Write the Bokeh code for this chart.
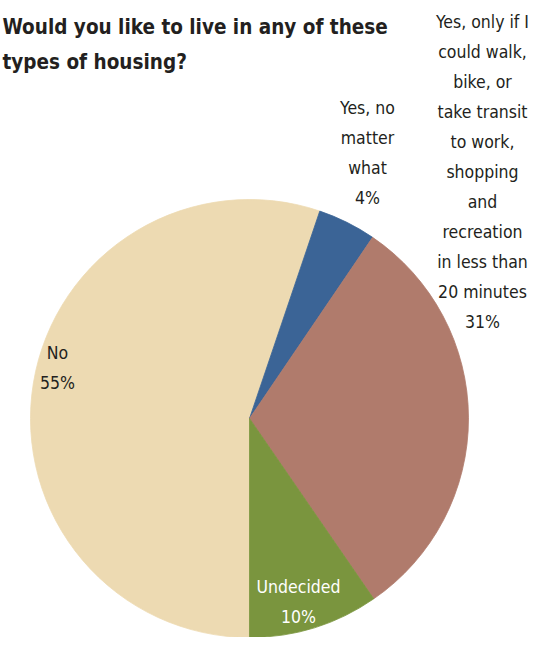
import math
from bokeh.plotting import figure
from bokeh.models import Range1d, ColumnDataSource
from bokeh.core.properties import value
from bokeh.embed import file_html
from bokeh.resources import INLINE

# ---- data ----
categories = [
    "No",
    "Yes, no matter what",
    "Yes, only if I could walk, bike, or take transit to work, shopping and recreation in less than 20 minutes",
    "Undecided",
]
label_lines = [
    ["No"],
    ["Yes, no", "matter", "what"],
    ["Yes, only if I", "could walk,", "bike, or", "take transit", "to work,",
     "shopping", "and", "recreation", "in less than", "20 minutes"],
    ["Undecided"],
]
shares = [55.2, 4.3, 30.9, 9.6]
colors = ["#EDDAB2", "#3B6496", "#B07B6C", "#7A953E"]
title_lines = ["Would you like to live in any of these", "types of housing?"]

# ---- layout (pixel coords, y measured from top) ----
W, H = 534, 637
def fy(y):
    return H - y

cx, cy, r = 249, fy(418), 219
label_anchor = [(57, 352), (367, 107), (482, 21), (298, 586)]
label_color = ["#231F20", "#231F20", "#231F20", "#FFFFFF"]
LINE = 30
FONT = "'DejaVu Sans Condensed', Roboto, sans-serif"

p = figure(width=W, height=H, output_backend="svg", toolbar_location=None,
           x_range=Range1d(0, W), y_range=Range1d(0, H), min_border=0)
p.axis.visible = False
p.grid.visible = False
p.outline_line_color = None
p.background_fill_color = "white"
p.border_fill_color = "white"

total = sum(shares)
starts, ends = [], []
a = -math.pi / 2
for s in shares:
    b = a - s / total * 2 * math.pi
    starts.append(b)
    ends.append(a)
    a = b

src = ColumnDataSource(dict(x=[cx] * len(shares), y=[cy] * len(shares),
                            start=starts, end=ends, color=colors, cat=categories))
p.wedge(x="x", y="y", radius=r, start_angle="start", end_angle="end",
        fill_color="color", line_color="color", line_width=0.8, source=src)

# slice labels
xs, ys, txt, tc = [], [], [], []
for lines, s, (ax, ay), c in zip(label_lines, shares, label_anchor, label_color):
    all_lines = lines + [f"{round(s)}%"]
    for i, t in enumerate(all_lines):
        xs.append(ax)
        ys.append(fy(ay + i * LINE))
        txt.append(t)
        tc.append(c)
p.text(x=xs, y=ys, text=txt, text_color=tc, text_align="center",
       text_baseline="middle", text_font=value(FONT), text_font_size="17.5px")

# title
p.text(x=[2, 2], y=[fy(26), fy(61)], text=title_lines, text_color="#231F20",
       text_align="left", text_baseline="alphabetic", text_font=value(FONT),
       text_font_style="bold", text_font_size="20.5px")

open("out.html", "w").write(file_html(p, INLINE))
